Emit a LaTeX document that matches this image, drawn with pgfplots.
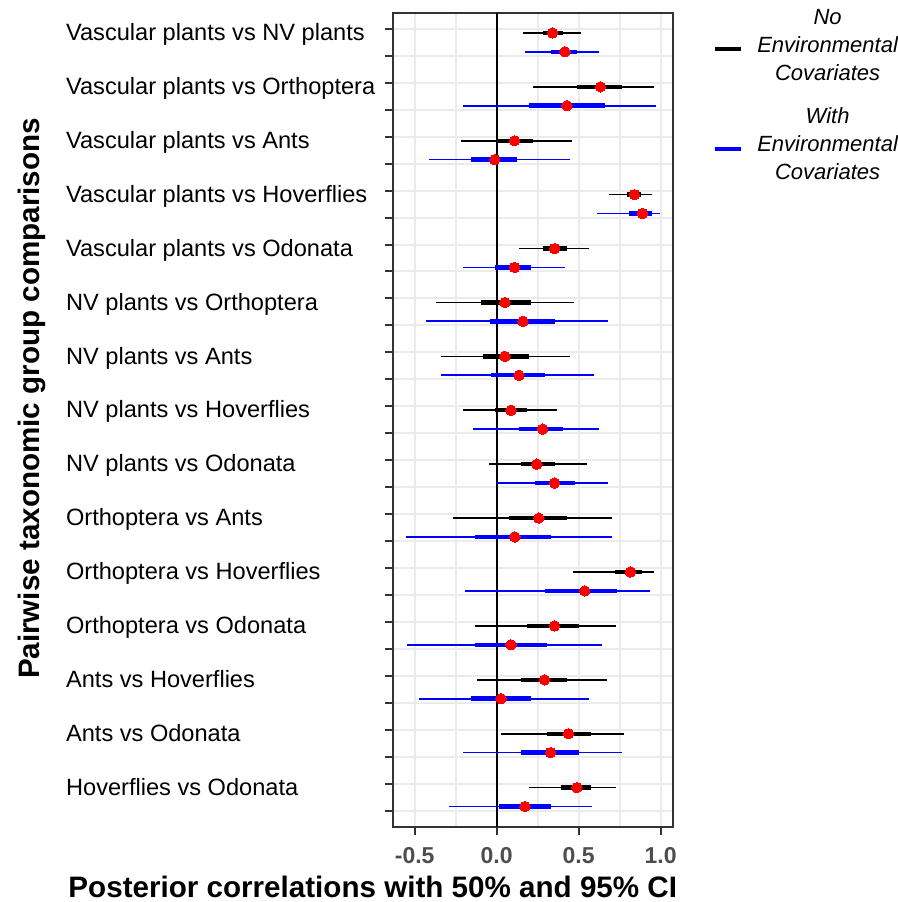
\documentclass[border=0pt]{standalone}
\usepackage{pgfplots}
\usepackage{pgfplotstable}
\pgfplotsset{compat=1.18}
\usepackage{fontspec}
\setmainfont{Liberation Sans}

\definecolor{gridgray}{RGB}{235,235,235}
\definecolor{framegray}{RGB}{51,51,51}
\definecolor{ticktext}{RGB}{77,77,77}

% y: row position (black just below odd tick, blue just above even tick)
\pgfplotstableread{
y     lo95   lo50   m      hi50   hi95
1.15  0.162  0.284  0.341  0.402  0.513
3.15  0.221  0.491  0.633  0.767  0.961
5.15  -0.217 0.000  0.109  0.221  0.462
7.15  0.686  0.795  0.840  0.878  0.949
9.15  0.138  0.284  0.353  0.426  0.560
11.15 -0.373 -0.093 0.050  0.209  0.474
13.15 -0.337 -0.081 0.050  0.197  0.450
15.15 -0.203 -0.008 0.087  0.184  0.365
17.15 -0.045 0.148  0.245  0.355  0.548
19.15 -0.264 0.075  0.257  0.428  0.706
21.15 0.466  0.722  0.815  0.889  0.961
23.15 -0.130 0.186  0.353  0.501  0.730
25.15 -0.118 0.148  0.292  0.428  0.670
27.15 0.026  0.306  0.438  0.572  0.779
29.15 0.197  0.391  0.489  0.572  0.730
}\noenv

\pgfplotstableread{
y     lo95   lo50   m      hi50   hi95
1.85  0.174  0.330  0.416  0.487  0.621
3.85  -0.205 0.197  0.428  0.659  0.974
5.85  -0.410 -0.156 -0.012 0.124  0.450
7.85  0.613  0.807  0.889  0.949  0.998
9.85  -0.205 -0.008 0.109  0.209  0.414
11.85 -0.434 -0.041 0.160  0.355  0.681
13.85 -0.337 -0.033 0.136  0.294  0.596
15.85 -0.142 0.136  0.280  0.404  0.621
17.85 0.004  0.233  0.353  0.477  0.681
19.85 -0.556 -0.130 0.111  0.330  0.706
21.85 -0.191 0.296  0.537  0.734  0.937
23.85 -0.544 -0.130 0.087  0.306  0.645
25.85 -0.471 -0.154 0.026  0.209  0.560
27.85 -0.203 0.148  0.329  0.501  0.767
29.85 -0.290 0.016  0.172  0.330  0.584
}\withenv

\begin{document}
\begin{tikzpicture}
\useasboundingbox (-196.65pt,-37.65pt) rectangle (252.35pt,413.35pt);
\begin{axis}[
    scale only axis,
    width=140pt, height=407pt,
    xmin=-0.6305, xmax=1.0768,
    ymin=0.4, ymax=30.6,
    y dir=reverse,
    axis line style={framegray, line width=1pt},
    tick align=outside,
    xtick pos=bottom, ytick pos=left,
    major tick length=4.2pt,
    minor tick length=0pt,
    tick style={framegray, line width=1pt},
    xtick={-0.5,0,0.5,1},
    xticklabels={-0.5,0.0,0.5,1.0},
    minor x tick num=1,
    ytick={1,...,30},
    yticklabels={Vascular plants vs NV plants,,Vascular plants vs Orthoptera,,Vascular plants vs Ants,,Vascular plants vs Hoverflies,,Vascular plants vs Odonata,,NV plants vs Orthoptera,,NV plants vs Ants,,NV plants vs Hoverflies,,NV plants vs Odonata,,Orthoptera vs Ants,,Orthoptera vs Hoverflies,,Orthoptera vs Odonata,,Ants vs Hoverflies,,Ants vs Odonata,,Hoverflies vs Odonata,},
    grid=both,
    major grid style={gridgray, line width=1pt},
    minor grid style={gridgray, line width=1pt},
    xticklabel style={anchor=base, yshift=-14pt, text=ticktext, font=\fontsize{11.5}{13}\selectfont\bfseries},
    yticklabel style={anchor=base west, inner sep=0pt, xshift=-159.6pt, yshift=-5.85pt, font=\fontsize{11.8}{14}\selectfont},
    xlabel={Posterior correlations with 50\% and 95\% CI},
    xlabel style={at={(axis description cs:-0.0732,-0.0875)}, anchor=base, font=\fontsize{14.8}{17}\selectfont\bfseries},
    ylabel={Pairwise taxonomic group comparisons},
    ylabel style={at={(axis description cs:-1.2618,0.526)}, anchor=base, font=\fontsize{14.8}{17}\selectfont\bfseries},
    legend style={at={(axis description cs:1.1393,1.0102)}, anchor=north west,
        draw=none, fill=none, inner sep=0pt, row sep=24.5pt, column sep=7pt,
        font=\fontsize{11}{14}\selectfont\itshape, nodes={inner sep=0pt}},
    legend cell align=center,
    legend image code/.code={\draw[#1, line width=2pt] (0pt,-9.55pt) -- (13.3pt,-9.55pt);},
]
% zero reference line
\addplot[black, line width=1pt, forget plot] coordinates {(0,0.4) (0,30.6)};

% black: no environmental covariates
\addplot[only marks, mark=none, forget plot,
    error bars/.cd, x dir=both, x explicit, error mark=none,
    error bar style={black, line width=0.85pt}]
    table[x=m, y=y, x error plus expr=\thisrow{hi95}-\thisrow{m}, x error minus expr=\thisrow{m}-\thisrow{lo95}] {\noenv};
\addplot[only marks, mark=none, forget plot,
    error bars/.cd, x dir=both, x explicit, error mark=none,
    error bar style={black, line width=2.2pt}]
    table[x=m, y=y, x error plus expr=\thisrow{hi50}-\thisrow{m}, x error minus expr=\thisrow{m}-\thisrow{lo50}] {\noenv};

% blue: with environmental covariates
\addplot[only marks, mark=none, forget plot,
    error bars/.cd, x dir=both, x explicit, error mark=none,
    error bar style={blue, line width=0.85pt}]
    table[x=m, y=y, x error plus expr=\thisrow{hi95}-\thisrow{m}, x error minus expr=\thisrow{m}-\thisrow{lo95}] {\withenv};
\addplot[only marks, mark=none, forget plot,
    error bars/.cd, x dir=both, x explicit, error mark=none,
    error bar style={blue, line width=2.2pt}]
    table[x=m, y=y, x error plus expr=\thisrow{hi50}-\thisrow{m}, x error minus expr=\thisrow{m}-\thisrow{lo50}] {\withenv};

% medians
\addplot[only marks, mark=*, mark size=2.6pt, red, mark options={fill=red, draw=red, line width=0pt}, forget plot]
    table[x=m, y=y] {\noenv};
\addplot[only marks, mark=*, mark size=2.6pt, red, mark options={fill=red, draw=red, line width=0pt}, forget plot]
    table[x=m, y=y] {\withenv};

\addlegendimage{black}
\addlegendentry{\begin{tabular}{@{}c@{}}No\\Environmental\\Covariates\end{tabular}}
\addlegendimage{blue}
\addlegendentry{\begin{tabular}{@{}c@{}}With\\Environmental\\Covariates\end{tabular}}
\end{axis}
\end{tikzpicture}
\end{document}
